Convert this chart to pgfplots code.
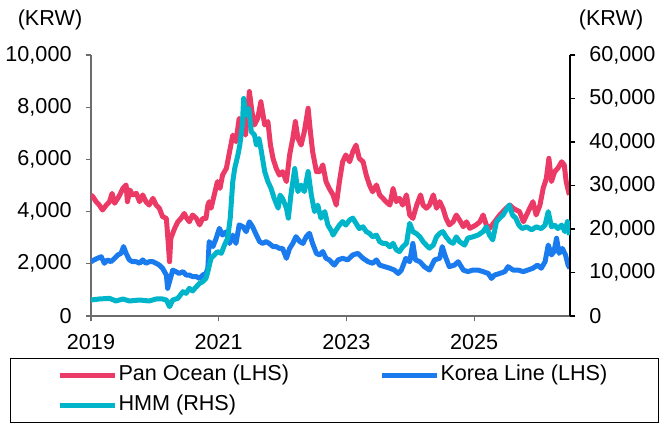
\documentclass[border=0pt]{standalone}
\usepackage{fontspec}
\setmainfont{Liberation Sans}
\usepackage{pgfplots}
\pgfplotsset{compat=1.18}

\definecolor{pan}{HTML}{EC3A66}
\definecolor{korea}{HTML}{1A7BEF}
\definecolor{hmm}{HTML}{00B5CA}

\newcommand{\lblfont}{\fontsize{10.8}{12.5}\selectfont}

\begin{document}
\begin{tikzpicture}
\path[use as bounding box] (0,0) rectangle (330pt,212pt);

\begin{axis}[
    at={(45.5pt,54pt)}, anchor=south west,
    scale only axis, width=239.5pt, height=130.5pt,
    xmin=2019, xmax=2026.5,
    ymin=0, ymax=10000,
    axis x line*=bottom, axis y line*=left,
    axis line style={-, draw=gray!85!black, line width=0.6pt},
    xtick={2019,2021,2023,2025},
    ytick={0,2000,...,10000},
    tick align=outside, major tick length=2.7pt,
    tick style={draw=gray!85!black, line width=0.6pt},
    scaled ticks=false,
    x tick label style={/pgf/number format/1000 sep={}, yshift=-3pt},
    y tick label style={/pgf/number format/1000 sep={,}, xshift=-3.5pt},
    /pgf/number format/assume math mode=true,
    tick label style={font=\lblfont},
]
% Pan Ocean (LHS)
\addplot[pan, line width=2.5pt, line join=round] coordinates {
(2019.00,4640) (2019.03,4570) (2019.08,4380) (2019.13,4250) (2019.18,4060)
(2019.24,4250) (2019.29,4380) (2019.33,4700) (2019.37,4320) (2019.42,4510)
(2019.45,4640) (2019.50,4890) (2019.55,5020) (2019.57,4380) (2019.61,4830)
(2019.65,4640) (2019.71,4700) (2019.76,4380) (2019.81,4640) (2019.86,4380)
(2019.91,4250) (2019.97,4510) (2020.02,4250) (2020.07,4130) (2020.12,3810)
(2020.18,3740) (2020.20,3100) (2020.23,2080) (2020.25,2980) (2020.31,3360)
(2020.36,3610) (2020.41,3740) (2020.46,3930) (2020.50,3740) (2020.54,3610)
(2020.59,3870) (2020.65,3740) (2020.70,3490) (2020.75,3740) (2020.80,3740)
(2020.83,4250) (2020.85,4380) (2020.88,4130) (2020.93,4640) (2020.98,5150)
(2021.02,4890) (2021.06,5400) (2021.12,5660) (2021.17,6300) (2021.22,6930)
(2021.27,6680) (2021.32,7570) (2021.38,7190) (2021.42,6930) (2021.45,7700)
(2021.48,8600) (2021.52,7830) (2021.56,7320) (2021.61,7570) (2021.66,8210)
(2021.72,7320) (2021.77,7450) (2021.81,6550) (2021.85,6040) (2021.90,5660)
(2021.95,5400) (2022.00,5530) (2022.06,5150) (2022.11,6170) (2022.16,6810)
(2022.20,7450) (2022.24,6810) (2022.29,6550) (2022.34,7060) (2022.40,7960)
(2022.43,7190) (2022.47,6300) (2022.53,5530) (2022.58,5530) (2022.63,5790)
(2022.68,5150) (2022.73,4890) (2022.79,4640) (2022.84,4250) (2022.89,5150)
(2022.94,5910) (2022.99,6170) (2023.05,5910) (2023.10,6300) (2023.15,6550)
(2023.20,6040) (2023.26,5910) (2023.31,5400) (2023.36,5020) (2023.41,4760)
(2023.47,5020) (2023.52,4640) (2023.57,4510) (2023.62,4380) (2023.68,4250)
(2023.73,4890) (2023.78,4380) (2023.83,4510) (2023.88,4250) (2023.94,4640)
(2023.99,3870) (2024.04,3740) (2024.10,4250) (2024.16,4640) (2024.20,4250)
(2024.25,4130) (2024.30,4250) (2024.36,4640) (2024.41,4130) (2024.46,4380)
(2024.51,4130) (2024.56,3740) (2024.61,3490) (2024.67,3610) (2024.72,3870)
(2024.77,3680) (2024.83,3420) (2024.88,3610) (2024.93,3360) (2024.98,3420)
(2025.03,3490) (2025.09,3610) (2025.14,3870) (2025.19,3490) (2025.24,3360)
(2025.32,3610) (2025.40,3870) (2025.45,4000) (2025.50,4130) (2025.56,4250)
(2025.61,4130) (2025.66,4060) (2025.71,4000) (2025.77,3610) (2025.82,3870)
(2025.87,4130) (2025.92,4380) (2025.97,3870) (2026.03,4250) (2026.08,4890)
(2026.13,5270) (2026.17,6040) (2026.21,5150) (2026.26,5530) (2026.31,5660)
(2026.37,5910) (2026.41,5790) (2026.44,5150) (2026.49,4640)
};
% Korea Line (LHS)
\addplot[korea, line width=2.5pt, line join=round] coordinates {
(2019.00,2080) (2019.05,2150) (2019.10,2210) (2019.16,2270) (2019.21,2020)
(2019.26,2150) (2019.31,2080) (2019.37,2210) (2019.42,2340) (2019.47,2400)
(2019.51,2660) (2019.55,2400) (2019.60,2150) (2019.65,2080) (2019.71,2080)
(2019.76,2020) (2019.81,2150) (2019.86,2020) (2019.91,2080) (2019.97,2080)
(2020.02,2020) (2020.07,1950) (2020.12,1830) (2020.18,1570) (2020.20,1060)
(2020.23,1320) (2020.28,1760) (2020.33,1700) (2020.38,1630) (2020.44,1700)
(2020.49,1570) (2020.54,1570) (2020.59,1510) (2020.65,1510) (2020.70,1440)
(2020.75,1570) (2020.80,1630) (2020.83,1830) (2020.85,2850) (2020.91,2660)
(2020.96,2980) (2021.01,3360) (2021.06,3100) (2021.12,3230) (2021.17,2780)
(2021.22,3100) (2021.27,2780) (2021.32,3490) (2021.38,3420) (2021.43,3230)
(2021.48,3610) (2021.53,3420) (2021.59,3100) (2021.64,2850) (2021.69,2780)
(2021.74,2850) (2021.79,2780) (2021.85,2660) (2021.90,2660) (2021.95,2590)
(2022.00,2590) (2022.06,2210) (2022.11,2590) (2022.16,2780) (2022.21,3040)
(2022.27,2850) (2022.32,2780) (2022.37,3040) (2022.42,3170) (2022.47,2780)
(2022.53,2400) (2022.58,2340) (2022.63,2470) (2022.68,2210) (2022.73,2150)
(2022.81,1950) (2022.87,2150) (2022.94,2210) (2023.02,2150) (2023.10,2340)
(2023.18,2400) (2023.26,2210) (2023.34,2080) (2023.41,2020) (2023.47,2150)
(2023.52,1950) (2023.60,1890) (2023.68,1830) (2023.75,1760) (2023.81,1630)
(2023.86,1760) (2023.93,2210) (2023.99,2080) (2024.04,2780) (2024.08,2150)
(2024.15,2080) (2024.22,1890) (2024.30,1760) (2024.38,2150) (2024.46,2210)
(2024.50,2660) (2024.55,2270) (2024.61,1890) (2024.69,1950) (2024.75,2080)
(2024.83,1760) (2024.90,1700) (2024.98,1760) (2025.06,1760) (2025.14,1700)
(2025.22,1630) (2025.27,1440) (2025.32,1570) (2025.40,1630) (2025.48,1700)
(2025.53,1890) (2025.61,1760) (2025.69,1760) (2025.77,1700) (2025.84,1760)
(2025.92,1830) (2025.99,1950) (2026.05,1830) (2026.11,2080) (2026.16,2720)
(2026.21,2340) (2026.25,2470) (2026.29,2980) (2026.33,2400) (2026.38,2590)
(2026.43,2340) (2026.47,1950) (2026.50,1830)
};
\end{axis}

\begin{axis}[
    at={(45.5pt,54pt)}, anchor=south west,
    scale only axis, width=239.5pt, height=130.5pt,
    xmin=2019, xmax=2026.5,
    ymin=0, ymax=60000,
    axis x line=none, axis y line*=right,
    axis line style={-, draw=black, line width=0.6pt},
    ytick={0,10000,...,60000},
    tick align=outside, major tick length=2.7pt,
    tick style={draw=black, line width=0.6pt},
    scaled ticks=false,
    y tick label style={/pgf/number format/1000 sep={,}, xshift=3.5pt},
    /pgf/number format/assume math mode=true,
    tick label style={font=\lblfont},
    legend columns=2,
    legend cell align=left,
    legend image code/.code={%
        \path[draw=none] (-24.5pt,0pt) -- (29.5pt,0pt);
        \draw[#1, line width=2.3pt] (0pt,0pt) -- (27.5pt,0pt);},
    legend style={
        at={(-0.1691,-0.1609)}, anchor=north west,
        draw=black, line width=0.5pt, fill=white,
        inner xsep=0pt, inner ysep=3.5pt, row sep=5pt,
        font=\lblfont,
        nodes={inner sep=0pt, text height=0.75em, text depth=0.25em},
    },
]
\addlegendimage{pan}
\addlegendentry{\makebox[107pt][l]{Pan Ocean (LHS)}}
\addlegendimage{korea}
\addlegendentry{\makebox[109pt][l]{Korea Line (LHS)}}
% HMM (RHS)
\addplot[hmm, line width=2.5pt, line join=round] coordinates {
(2019.00,3680) (2019.13,3910) (2019.29,4060) (2019.39,3450) (2019.50,3910)
(2019.60,3450) (2019.76,3680) (2019.91,3450) (2020.02,3910) (2020.12,3910)
(2020.18,3680) (2020.23,2150) (2020.28,3680) (2020.36,4060) (2020.44,5590)
(2020.49,5210) (2020.54,6360) (2020.59,5750) (2020.65,6740) (2020.70,7510)
(2020.75,7890) (2020.80,8660) (2020.83,10200) (2020.88,13300) (2020.93,14000)
(2020.98,14800) (2021.04,14400) (2021.09,16300) (2021.14,17900) (2021.18,22500)
(2021.22,30900) (2021.25,33900) (2021.30,37000) (2021.33,39300) (2021.37,43900)
(2021.39,50000) (2021.43,46200) (2021.47,47700) (2021.51,42400) (2021.56,41600)
(2021.59,39300) (2021.63,40800) (2021.66,38500) (2021.72,33200) (2021.77,30900)
(2021.82,29300) (2021.87,27000) (2021.93,24800) (2021.96,27800) (2022.00,27000)
(2022.06,24800) (2022.09,22500) (2022.13,27800) (2022.19,33900) (2022.24,28600)
(2022.29,30100) (2022.34,28600) (2022.40,33200) (2022.45,27800) (2022.50,24000)
(2022.55,25500) (2022.60,22500) (2022.66,24000) (2022.71,20900) (2022.77,19400)
(2022.79,18600) (2022.84,19800) (2022.89,20900) (2022.94,21700) (2022.99,20900)
(2023.05,22100) (2023.10,22500) (2023.15,21300) (2023.20,20100) (2023.26,20500)
(2023.31,19400) (2023.36,19000) (2023.41,18200) (2023.47,18600) (2023.52,17100)
(2023.57,16700) (2023.62,16700) (2023.68,15900) (2023.73,16700) (2023.78,15200)
(2023.83,14800) (2023.88,15900) (2023.94,16700) (2023.99,21300) (2024.04,19400)
(2024.09,19000) (2024.15,18200) (2024.20,17100) (2024.25,16300) (2024.30,15600)
(2024.36,16300) (2024.41,18200) (2024.46,19000) (2024.51,19400) (2024.56,18200)
(2024.62,17100) (2024.67,16700) (2024.72,18200) (2024.77,17100) (2024.85,16300)
(2024.90,17900) (2024.98,18200) (2025.06,18600) (2025.14,19400) (2025.19,20500)
(2025.24,18600) (2025.29,17500) (2025.35,21700) (2025.40,22500) (2025.45,23200)
(2025.50,24400) (2025.55,25500) (2025.60,23200) (2025.65,22500) (2025.70,20900)
(2025.75,20100) (2025.82,20500) (2025.90,19800) (2025.97,20500) (2026.05,20100)
(2026.11,20900) (2026.16,24000) (2026.21,20500) (2026.26,20900) (2026.31,20100)
(2026.37,20900) (2026.42,19400) (2026.46,21700) (2026.49,18600)
};
\addlegendentry{HMM (RHS)}
\end{axis}

\node[font=\lblfont] at (25pt,202pt) {(KRW)};
\node[font=\lblfont] at (305.5pt,202pt) {(KRW)};
\end{tikzpicture}
\end{document}
